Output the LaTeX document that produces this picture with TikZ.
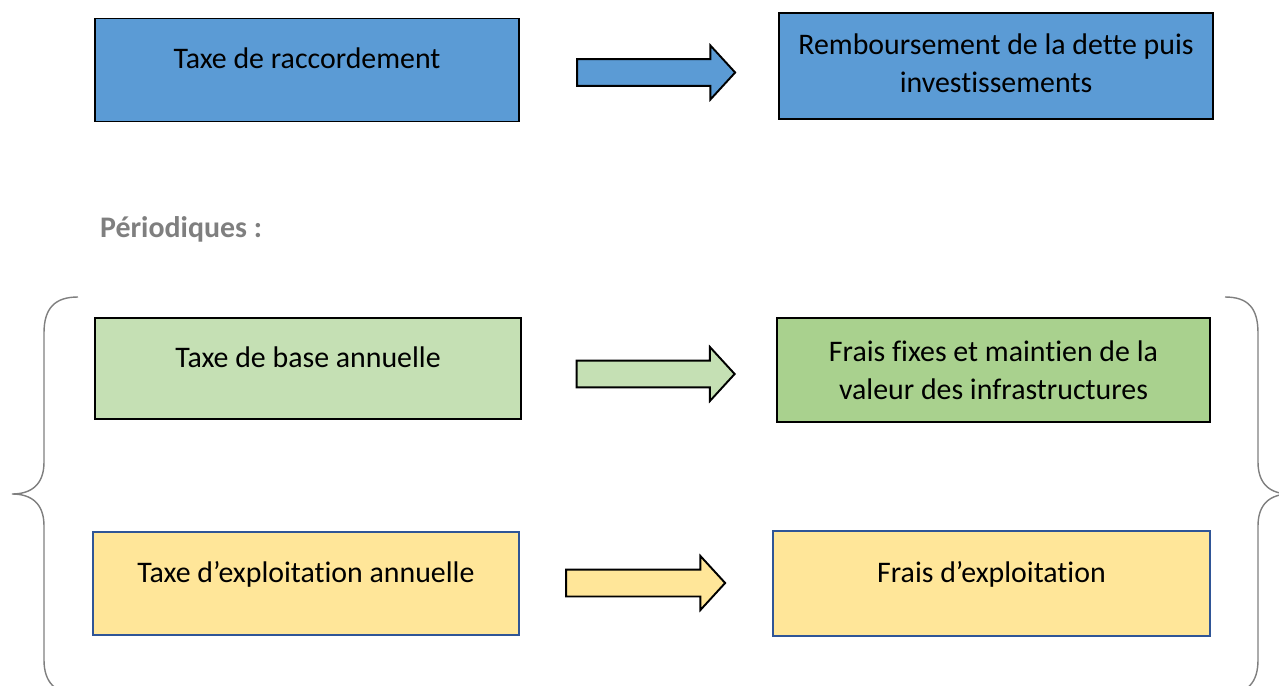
\documentclass[tikz,border=0pt]{standalone}
\usepackage{fontspec}
\setmainfont{Carlito}[Ligatures=NoCommon]
\usetikzlibrary{shapes.arrows}
\definecolor{boxblue}{HTML}{5B9BD5}
\definecolor{boxgreenlight}{HTML}{C5E0B4}
\definecolor{boxgreen}{HTML}{A9D18E}
\definecolor{boxyellow}{HTML}{FFE699}
\definecolor{edgeblue}{HTML}{2F5597}
\definecolor{bracegray}{HTML}{7F7F7F}
\begin{document}
\begin{tikzpicture}[x=0.02cm, y=-0.02cm,
    every node/.style={font=\fontsize{17}{21.8}\selectfont},
    taxbox/.style={draw=black, line width=1.1pt, minimum width=8.5cm, minimum height=2.06cm, align=center},
    onerow/.style={text height=12pt, text depth=13.6pt},
    flowarrow/.style={single arrow, draw=black, line width=1.1pt, inner sep=0pt,
        text height=0.25cm, text depth=0.25cm, minimum height=3.16cm,
        single arrow head extend=0.27cm, single arrow tip angle=95}]
    \useasboundingbox (0,0) rectangle (1279,686);

    % raccordement
    \node[taxbox, onerow, fill=boxblue] (raccord) at (307,70) {Taxe de raccordement};
    \node[taxbox, text depth=3.5pt, fill=boxblue, minimum width=8.68cm, minimum height=2.12cm] (dette) at (996,66)
        {Remboursement de la dette puis\\investissements};
    \node[flowarrow, fill=boxblue] (arrraccord) at (650,72.5) {};

    \node[anchor=west, text=bracegray, font=\fontsize{17}{21.8}\selectfont\bfseries] (periodic) at (94,229) {Périodiques :};

    % periodiques
    \node[taxbox, onerow, fill=boxgreenlight, minimum width=8.52cm, minimum height=2.02cm] (base) at (308,368.5) {Taxe de base annuelle};
    \node[taxbox, fill=boxgreen, minimum width=8.66cm, minimum height=2.08cm] (fixes) at (993.5,370)
        {Frais fixes et maintien de la\\valeur des infrastructures};
    \node[flowarrow, fill=boxgreenlight] (arrbase) at (649.5,374) {};

    \node[taxbox, onerow, draw=edgeblue, line width=0.9pt, fill=boxyellow, minimum width=8.52cm, minimum height=2.06cm] (exploit) at (306,583.5) {Taxe d’exploitation annuelle};
    \node[taxbox, onerow, draw=edgeblue, line width=0.9pt, fill=boxyellow, minimum width=8.74cm, minimum height=2.1cm] (fraisexp) at (991.5,583.5) {Frais d’exploitation};
    \node[flowarrow, fill=boxyellow, minimum height=3.18cm] (arrexploit) at (639.5,583) {};

    % braces
    \draw[bracegray, line width=0.8pt] (78,297) .. controls (55,297) and (44,308) .. (44,333) -- (44,462)
        .. controls (44,484) and (32,494) .. (12,494) .. controls (32,494) and (44,504) .. (44,526)
        -- (44,660) .. controls (44,682) and (55,694) .. (78,694);
    \draw[bracegray, line width=0.8pt] (1225,297) .. controls (1248,297) and (1258,308) .. (1258,333) -- (1258,462)
        .. controls (1258,484) and (1270,494) .. (1290,494) .. controls (1270,494) and (1258,504) .. (1258,526)
        -- (1258,660) .. controls (1258,682) and (1248,694) .. (1225,694);
\end{tikzpicture}
\end{document}
